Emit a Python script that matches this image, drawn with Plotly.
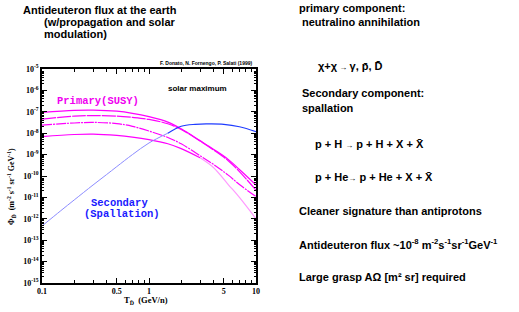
import plotly.graph_objects as go

# ---------------- data ----------------
energy = [0.1, 0.2, 0.3, 0.5, 0.7, 1.0, 1.5, 2.0, 3.0, 4.0, 5.5, 7.0, 10.0]
primary_a = [9.5e-8, 1.17e-7, 1.2e-7, 1.07e-7, 8.5e-8, 5.9e-8, 3.3e-8, 1.6e-8, 4.5e-9, 1.8e-9, 6.0e-10, 2.0e-10, 3.8e-11]
primary_b = [4.5e-8, 6.3e-8, 6.6e-8, 6.3e-8, 5.5e-8, 4.4e-8, 2.75e-8, 1.48e-8, 4.3e-9, 1.66e-9, 5.2e-10, 1.6e-10, 2.2e-11]
primary_c = [2.4e-8, 3.0e-8, 3.2e-8, 2.8e-8, 2.1e-8, 1.26e-8, 6.3e-9, 3.2e-9, 8.9e-10, 3.5e-10, 1.1e-10, 4.0e-11, 1.1e-11]
primary_d = [6.9e-9, 8.7e-9, 9.1e-9, 7.9e-9, 6.6e-9, 5.0e-9, 3.2e-9, 1.9e-9, 7.1e-10, 2.5e-10, 4.0e-11, 1.0e-11, 1.0e-12]

sec_energy = [0.1, 0.15, 0.2, 0.3, 0.4, 0.5, 0.7, 1.0, 1.5, 2.0, 2.7, 3.5, 5.0, 7.0, 10.0]
secondary = [4.6e-13, 2.4e-12, 7.6e-12, 3.8e-11, 1.15e-10, 2.75e-10, 1.0e-9, 3.5e-9, 1.0e-8,
             2.1e-8, 2.6e-8, 2.7e-8, 2.6e-8, 2.0e-8, 1.17e-8]

x_tickvals = [0.1, 0.5, 1, 5, 10]
x_ticktext = ["0.1", "0.5", "1", "5", "10"]
y_exponents = [-5, -6, -7, -8, -9, -10, -11, -12, -13, -14, -15]

W, H = 519, 312
PL, PR, PT, PB = 42, 256, 69, 283  # plot box in pixels


def px(x):
    return x / W


def py(y):
    return 1 - y / H


MAG = "#ff00ff"
PINK = "#ff99ff"
BLUE = "#1f3cff"
LBLUE = "#8c8cff"

fig = go.Figure()
lw = 1.2
fig.add_trace(go.Scatter(x=energy, y=primary_a, mode="lines", line=dict(color=MAG, width=lw, shape="spline")))
fig.add_trace(go.Scatter(x=energy, y=primary_b, mode="lines", line=dict(color=MAG, width=lw, shape="spline", dash="14px,1px")))
fig.add_trace(go.Scatter(x=energy, y=primary_c, mode="lines", line=dict(color=MAG, width=lw, shape="spline", dash="10px,1px,2px,1px")))
fig.add_trace(go.Scatter(x=energy[:9], y=primary_d[:9], mode="lines", line=dict(color=MAG, width=lw, shape="spline")))
fig.add_trace(go.Scatter(x=energy[8:], y=primary_d[8:], mode="lines", line=dict(color=PINK, width=lw, shape="spline")))
fig.add_trace(go.Scatter(x=sec_energy[:9], y=secondary[:9], mode="lines", line=dict(color=LBLUE, width=1, shape="spline")))
fig.add_trace(go.Scatter(x=sec_energy[8:], y=secondary[8:], mode="lines", line=dict(color=BLUE, width=1.2, shape="spline")))

y_minor = [m * 10.0 ** e for e in range(-15, -5) for m in range(2, 10)]
x_minor = [m * 10.0 ** e for e in (-1, 0) for m in range(2, 10)]

tickfont = dict(family="Liberation Serif", size=8, color="black", weight="bold")

fig.update_layout(
    width=W, height=H, autosize=False,
    margin=dict(l=0, r=0, t=0, b=0, autoexpand=False),
    paper_bgcolor="white", plot_bgcolor="white",
    showlegend=False,
    xaxis=dict(
        type="log", range=[-1, 1], domain=[px(PL), px(PR)], automargin=False,
        showgrid=False, zeroline=False,
        showline=True, linecolor="black", linewidth=1.5, mirror="allticks",
        ticks="inside", ticklen=5, tickwidth=1, tickcolor="black",
        tickmode="array", tickvals=x_tickvals, ticktext=x_ticktext,
        tickfont=tickfont,
        minor=dict(tickmode="array", tickvals=x_minor, ticks="inside", ticklen=3, tickcolor="black", tickwidth=1),
    ),
    yaxis=dict(
        type="log", range=[-15, -5], domain=[py(PB), py(PT)], automargin=False,
        showgrid=False, zeroline=False,
        showline=True, linecolor="black", linewidth=1.5, mirror="allticks",
        ticks="inside", ticklen=5, tickwidth=1, tickcolor="black",
        tickmode="array", tickvals=[10.0 ** e for e in y_exponents],
        ticktext=["10<sup>%d</sup>" % e for e in y_exponents],
        tickfont=tickfont,
        minor=dict(tickmode="array", tickvals=y_minor, ticks="inside", ticklen=2.5, tickcolor="black", tickwidth=1),
    ),
)

SANS = "Liberation Sans"
MONO = "Liberation Mono"


def note(text, x, y, size=11, color="black", family=SANS, xanchor="left", weight="bold", angle=0):
    fig.add_annotation(text=text, x=px(x), y=py(y), xref="paper", yref="paper",
                       xanchor=xanchor, yanchor="middle", showarrow=False, textangle=angle,
                       font=dict(family=family, size=size, color=color, weight=weight))


# left title
note("Antideuteron flux at the earth", 21, 10)
note("(w/propagation and solar", 42, 22)
note("modulation)", 42, 34)

# in-plot labels
note("F. Donato, N. Fornengo, P. Salati (1999)", 254, 63, size=5, xanchor="right")
note("solar maximum", 197, 88, size=8, xanchor="center")
note("Primary(SUSY)", 98, 101, size=10.5, color="#f000f0", family=MONO, xanchor="center")
note("Secondary", 119, 203, size=10.5, color="#1a1aff", family=MONO, xanchor="center")
note("(Spallation)", 122, 214, size=10.5, color="#1a1aff", family=MONO, xanchor="center")

# axis titles
note("T<sub>D̄</sub>  (GeV/n)", 146, 300, size=8.5, family="Liberation Serif", xanchor="center")
note("Φ<sub>D̄</sub>  (m<sup>-2</sup> s<sup>-1</sup> sr<sup>-1</sup> GeV<sup>-1</sup>)", 11, 187, size=8,
     family="Liberation Serif", xanchor="center", angle=-90)

# right text block
note("primary component:", 297, 8)
note("neutralino annihilation", 300, 22)
note("χ+χ<span style='font-size:8px'> → </span>γ, p̄, D̄", 316, 66)
note("Secondary component:", 300, 93)
note("spallation", 300, 108)
note("p + H <span style='font-size:8px'>→</span> p + H + X + X̄", 313, 144)
note("p + He<span style='font-size:8px'>→</span> p + He + X + X̄", 313, 177)
note("Cleaner signature than antiprotons", 297, 211)
note("Antideuteron flux ~10<sup>-8</sup> m<sup>-2</sup>s<sup>-1</sup>sr<sup>-1</sup>GeV<sup>-1</sup>", 297, 244)
note("Large grasp AΩ [m² sr] required", 297, 277)

fig.write_html("out.html", config={"displayModeBar": False},
               post_script="document.body.style.margin='0';document.body.style.overflow='hidden';")
